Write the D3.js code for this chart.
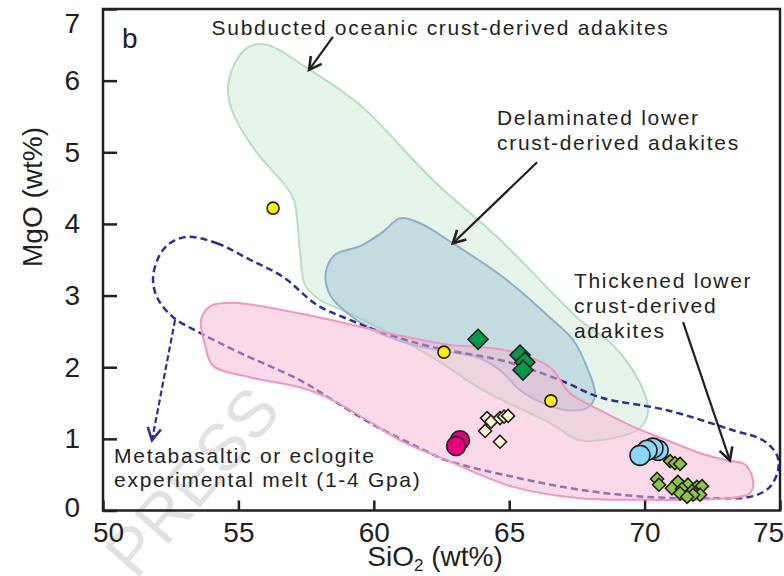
<!DOCTYPE html>
<html><head><meta charset="utf-8">
<script src="https://cdn.jsdelivr.net/npm/d3@7"></script>
<style>
body{margin:0;background:#fff;}
svg{display:block;}
text{font-family:"Liberation Sans",Arial,sans-serif;fill:#231f20;}
</style>
</head><body>
<svg id="chart" width="784" height="576"></svg>
<script>
// ---- axis ticks ----
const xTickValues = [50, 55, 60, 65, 70, 75];
const yTickValues = [0, 1, 2, 3, 4, 5, 6, 7];

// ---- field outlines (SiO2, MgO) ----
const subductedRegion = [[56.06,6.50],[57.64,6.15],[59.49,5.66],[62.19,4.61],[64.66,3.78],[67.61,2.66],[68.83,2.31],[69.83,1.78],[70.13,1.40],[69.83,1.15],[68.83,1.01],[67.61,0.98],[66.51,1.22],[64.03,1.68],[62.33,2.10],[60.34,2.52],[59.01,2.77],[58.01,2.94],[57.46,3.15],[57.27,3.64],[57.05,4.33],[56.72,4.54],[55.61,5.03],[54.76,5.59],[54.62,5.94],[54.99,6.32],[55.43,6.48]];
const delaminatedRegion = [[60.97,4.08],[61.71,4.01],[62.92,3.73],[64.66,3.29],[65.66,2.98],[66.51,2.69],[67.36,2.38],[67.87,2.00],[68.17,1.61],[67.91,1.44],[67.13,1.40],[66.25,1.50],[65.40,1.68],[64.66,1.96],[63.81,2.14],[62.33,2.24],[61.08,2.35],[59.97,2.52],[59.01,2.76],[58.38,3.01],[58.23,3.33],[58.57,3.57],[59.49,3.69],[60.34,3.89]];
const thickenedRegion = [[53.95,2.85],[54.80,2.90],[57.90,2.70],[60.34,2.49],[62.81,2.31],[64.03,2.28],[65.29,2.20],[66.51,2.00],[67.24,1.64],[68.35,1.40],[69.57,1.17],[70.83,0.98],[72.06,0.80],[73.04,0.70],[73.71,0.64],[74.00,0.43],[73.89,0.24],[72.53,0.16],[70.09,0.15],[67.61,0.17],[65.14,0.33],[62.70,0.70],[60.97,0.98],[59.75,1.26],[58.27,1.58],[57.27,1.72],[55.43,1.86],[54.06,2.02],[53.77,2.31],[53.62,2.66]];
const meltRegion = [[53.10,3.82],[54.21,3.73],[55.43,3.50],[56.65,3.26],[57.90,2.87],[59.12,2.66],[60.34,2.48],[62.19,2.28],[64.66,2.10],[65.88,1.96],[67.13,1.78],[68.35,1.58],[70.83,1.40],[73.26,1.12],[74.37,0.98],[74.89,0.77],[74.93,0.57],[74.63,0.33],[74.00,0.20],[72.53,0.17],[70.09,0.19],[67.61,0.29],[65.14,0.47],[62.70,0.70],[61.60,0.89],[60.12,1.17],[58.49,1.54],[57.27,1.82],[55.06,2.20],[53.58,2.48],[52.58,2.70],[51.99,2.98],[51.85,3.26],[52.10,3.57],[52.47,3.73]];

// ---- samples (SiO2, MgO) ----
const yellowCircles = [[56.28,4.22],[62.59,2.21],[66.54,1.53]];
const greenDiamonds = [[63.85,2.39],[65.40,2.17],[65.58,2.07],[65.51,1.96]];
const magentaCircles = [[63.18,0.98],[63.04,0.90]];
const creamDiamonds = [[64.18,1.29],[64.33,1.24],[64.66,1.29],[64.81,1.31],[64.96,1.32],[64.11,1.11],[64.66,0.96]];
const blueCircles = [[70.50,0.84],[70.31,0.87],[70.09,0.84],[69.83,0.77]];
const limeDiamonds = [[70.94,0.69],[71.12,0.66],[71.31,0.65],[70.46,0.44],[70.53,0.36],[71.23,0.40],[71.01,0.31],[71.60,0.36],[71.38,0.30],[71.93,0.33],[72.12,0.34],[71.75,0.27],[71.31,0.24],[72.05,0.22],[71.79,0.22],[71.57,0.19]];

// ---- annotations ----
const labelLines = [
  {t:"Subducted oceanic crust-derived adakites", x:54.01, y:6.64},
  {t:"Delaminated lower", x:64.55, y:5.38},
  {t:"crust-derived adakites", x:64.55, y:5.03},
  {t:"Thickened lower", x:67.39, y:3.11},
  {t:"crust-derived", x:67.39, y:2.76},
  {t:"adakites", x:67.39, y:2.41},
  {t:"Metabasaltic or eclogite", x:50.41, y:0.66},
  {t:"experimental melt (1-4 Gpa)", x:50.41, y:0.33}
];
const solidArrows = [
  [[58.49,6.61],[57.61,6.15]],
  [[66.03,4.86],[62.92,3.73]],
  [[71.42,2.63],[73.15,0.70]]
];
const dashedArrow = [[52.66,2.66],[51.81,0.98]];

const svg = d3.select("#chart");
const x = d3.scaleLinear().domain([50,75]).range([103,780]);
const y = d3.scaleLinear().domain([0,7]).range([510.5,9]);

// watermark
svg.append("text").text("PRESS")
  .attr("transform","translate(136,581) rotate(-49)")
  .style("font-size","66px").style("fill","#e2e2e2");

const area = d3.line().x(d=>x(d[0])).y(d=>y(d[1])).curve(d3.curveCatmullRomClosed.alpha(0.5));

svg.append("path").attr("d",area(subductedRegion))
  .attr("fill","#e6f4ea").attr("stroke","#b6dfc4").attr("stroke-width",2);
svg.append("path").attr("d",area(delaminatedRegion))
  .attr("fill","#9ec3d3").attr("fill-opacity",0.5).attr("stroke","#8db1ca").attr("stroke-width",2);
svg.append("path").attr("d",area(meltRegion))
  .attr("fill","none").attr("stroke","#2e3192").attr("stroke-width",2.5).attr("stroke-dasharray","7,4");
svg.append("path").attr("d",area(thickenedRegion))
  .attr("fill","#f6b3d1").attr("fill-opacity",0.5).attr("stroke","#f196c2").attr("stroke-width",2);

// arrows
function arrow(seg, color, dashed){
  const x1=x(seg[0][0]), y1=y(seg[0][1]), x2=x(seg[1][0]), y2=y(seg[1][1]);
  const g = svg.append("g");
  g.append("line").attr("x1",x1).attr("y1",y1).attr("x2",x2).attr("y2",y2)
    .attr("stroke",color).attr("stroke-width",2.2).attr("stroke-dasharray",dashed?"6,3":null);
  const a=Math.atan2(y2-y1,x2-x1), L=14, w=0.5;
  const p1=[x2-L*Math.cos(a-w), y2-L*Math.sin(a-w)];
  const p2=[x2-L*Math.cos(a+w), y2-L*Math.sin(a+w)];
  g.append("path").attr("d",`M${p1[0]},${p1[1]}L${x2},${y2}L${p2[0]},${p2[1]}`)
    .attr("fill","none").attr("stroke",color).attr("stroke-width",2.6).attr("stroke-linejoin","miter");
}
solidArrows.forEach(s=>arrow(s,"#231f20",false));
arrow(dashedArrow,"#2e3192",true);

// labels
svg.selectAll("text.lab").data(labelLines).join("text").attr("class","lab")
  .attr("x",d=>x(d.x)).attr("y",d=>y(d.y)).text(d=>d.t)
  .style("font-size","21px").style("letter-spacing","1.7px");

// points
const diamond = s => `M0,${-s}L${s},0L0,${s}L${-s},0Z`;
function circles(data, r, fill){
  svg.append("g").selectAll("circle").data(data).join("circle")
    .attr("cx",d=>x(d[0])).attr("cy",d=>y(d[1])).attr("r",r)
    .attr("fill",fill).attr("stroke","#231f20").attr("stroke-width",1.6);
}
function diamonds(data, s, fill){
  svg.append("g").selectAll("path").data(data).join("path")
    .attr("transform",d=>`translate(${x(d[0])},${y(d[1])})`).attr("d",diamond(s))
    .attr("fill",fill).attr("stroke","#231f20").attr("stroke-width",1.6);
}
circles(yellowCircles,6,"#fff200");
diamonds(greenDiamonds,10,"#00994c");
circles(magentaCircles,9.5,"#e6007e");
diamonds(creamDiamonds,6.5,"#fff8d2");
circles(blueCircles,10,"#8cd6f5");
diamonds(limeDiamonds,6.5,"#8dc63f");

// axes
const yAxis = svg.append("g").attr("transform",`translate(${x(50)},0)`)
  .call(d3.axisLeft(y).tickValues(yTickValues).tickSize(-14).tickPadding(23).tickFormat(d3.format("d")));
const xAxis = svg.append("g").attr("transform",`translate(0,${y(0)})`)
  .call(d3.axisBottom(x).tickValues(xTickValues).tickSize(-10).tickPadding(12).tickFormat(d3.format("d")));
[yAxis,xAxis].forEach(a=>{
  a.select(".domain").remove();
  a.selectAll("line").attr("stroke","#231f20").attr("stroke-width",2.5);
  a.selectAll("text").style("font-size","28px").style("fill","#231f20").attr("font-family",null);
});
yAxis.selectAll(".tick").filter(d=>d===7).select("text").attr("dy","0.84em");
yAxis.selectAll(".tick").filter(d=>d===0).select("text").attr("dy","0.2em");
xAxis.selectAll(".tick").filter(d=>d===50).select("text").attr("dx","5");
xAxis.selectAll(".tick").filter(d=>d===75).select("text").attr("dx","-12");

svg.append("rect").attr("x",x(50)).attr("y",y(7)).attr("width",x(75)-x(50)).attr("height",y(0)-y(7))
  .attr("fill","none").attr("stroke","#231f20").attr("stroke-width",2.5);

svg.append("text").attr("x",x(50.7)).attr("y",y(6.45)).text("b").style("font-size","28px");

const xt = svg.append("text").attr("x",435).attr("y",566).attr("text-anchor","middle").style("font-size","28px");
xt.append("tspan").text("SiO");
xt.append("tspan").text("2").style("font-size","17px").attr("dy","5");
xt.append("tspan").text(" (wt%)").attr("dy","-5");

svg.append("text").attr("transform","translate(42,197) rotate(-90)").attr("text-anchor","middle")
  .style("font-size","28px").text("MgO (wt%)");
</script>
</body></html>
